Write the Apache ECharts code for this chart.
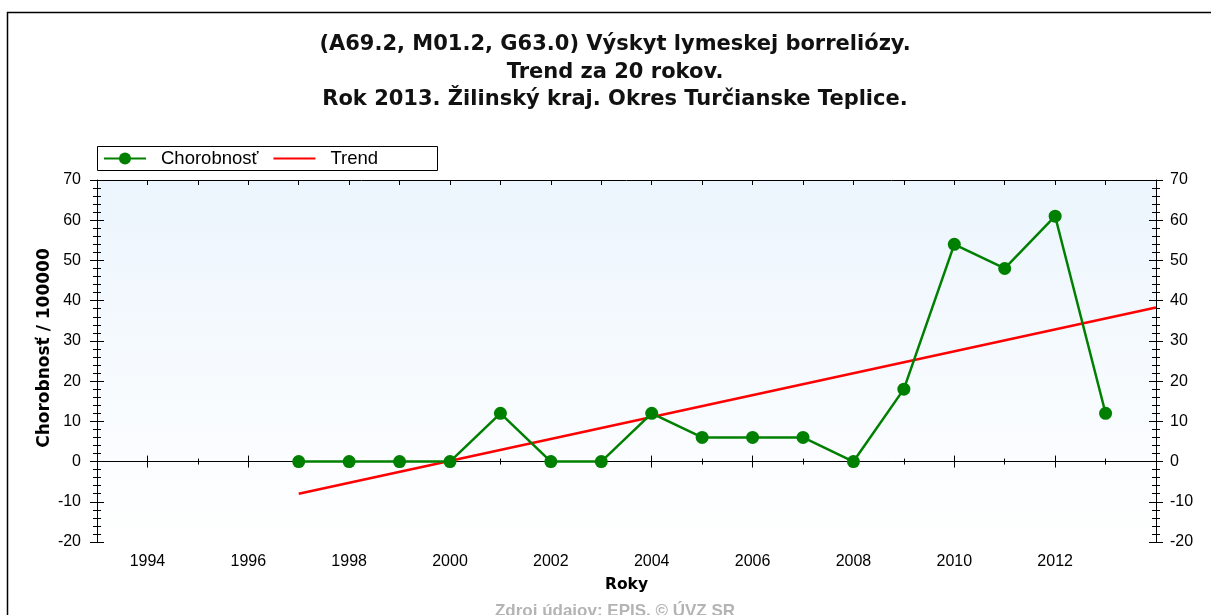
<!DOCTYPE html>
<html>
<head>
<meta charset="utf-8">
<title>Výskyt lymeskej borreliózy – Turčianske Teplice</title>
<script src="https://cdn.jsdelivr.net/npm/echarts@6/dist/echarts.min.js"></script>
<style>
  html, body { margin: 0; padding: 0; background: #ffffff; }
  #chart { width: 1211px; height: 615px; }
</style>
</head>
<body>
<div id="chart"></div>
<script>
// Incidence per 100 000 inhabitants, by year
const years = [1997, 1998, 1999, 2000, 2001, 2002, 2003, 2004, 2005, 2006, 2007, 2008, 2009, 2010, 2011, 2012, 2013];
const incidence = [0, 0, 0, 0, 12, 0, 0, 12, 6, 6, 6, 0, 18, 54, 48, 61, 12];

// Linear trend line, start and end points
const trendYears = [1997, 2014];
const trendValues = [-8.0, 38.3];

// Axis ticks
const labelYears = [1994, 1996, 1998, 2000, 2002, 2004, 2006, 2008, 2010, 2012];
const oddYears = [1995, 1997, 1999, 2001, 2003, 2005, 2007, 2009, 2011, 2013];
const allYears = [1994, 1995, 1996, 1997, 1998, 1999, 2000, 2001, 2002, 2003, 2004, 2005, 2006, 2007, 2008, 2009, 2010, 2011, 2012, 2013];

const titleLines = [
  '(A69.2, M01.2, G63.0) Výskyt lymeskej borreliózy.',
  'Trend za 20 rokov.',
  'Rok 2013. Žilinský kraj. Okres Turčianske Teplice.'
];
const yAxisTitle = 'Chorobnosť / 100000';
const xAxisTitle = 'Roky';
const sourceNote = 'Zdroj údajov: EPIS, © ÚVZ SR';

const FONT = '"Liberation Sans", Arial, sans-serif';
const BOLD_FONT = '"DejaVu Sans", "Liberation Sans", sans-serif';
const chart = echarts.init(document.getElementById('chart'), null, { renderer: 'canvas' });

const X_MIN = 1993, X_MAX = 2014, Y_MIN = -20, Y_MAX = 70;

function xAxisBase(extra) {
  return Object.assign({
    type: 'value', min: X_MIN, max: X_MAX, position: 'bottom',
    axisLine: { show: false },
    axisTick: { show: false },
    axisLabel: { show: false },
    splitLine: { show: false }
  }, extra);
}
function yAxisBase(extra) {
  return Object.assign({
    type: 'value', min: Y_MIN, max: Y_MAX, interval: 10,
    axisLine: { show: false },
    axisTick: { show: true, length: 7, lineStyle: { color: '#000', width: 1 } },
    minorTick: { show: true, splitNumber: 5, length: 4, lineStyle: { color: '#000', width: 1 } },
    axisLabel: { show: false },
    splitLine: { show: false }
  }, extra);
}

const tickStyle = { color: '#000', width: 1 };

const option = {
  animation: false,
  backgroundColor: '#ffffff',
  textStyle: { fontFamily: FONT },
  grid: {
    left: 97, right: 55, top: 180, bottom: 73,
    show: true,
    borderWidth: 0,
    backgroundColor: new echarts.graphic.LinearGradient(0, 0, 0, 1, [
      { offset: 0, color: '#ecf5fd' },
      { offset: 1, color: '#ffffff' }
    ])
  },
  legend: {
    left: 103, top: 149,
    padding: 0,
    itemWidth: 42, itemHeight: 15, itemGap: 14,
    textStyle: { fontFamily: FONT, fontSize: 18.5, color: '#000', padding: [0, 0, 0, 10] },
    data: [
      { name: 'Chorobnosť' },
      { name: 'Trend', itemStyle: { opacity: 0 } }
    ]
  },
  xAxis: [
    xAxisBase({
      axisLine: { show: true, lineStyle: { color: '#000', width: 1 } },
      axisTick: { show: true, length: 6, customValues: labelYears, lineStyle: tickStyle },
      axisLabel: {
        show: true, customValues: labelYears, margin: 12, fontSize: 16, color: '#000', fontFamily: FONT,
        formatter: (v) => String(v)
      },
      name: xAxisTitle, nameLocation: 'middle', nameGap: 35,
      nameTextStyle: { fontFamily: BOLD_FONT, fontSize: 15.5, fontWeight: 'bold', color: '#000' }
    }),
    xAxisBase({ axisTick: { show: true, inside: true, length: 6, customValues: labelYears, lineStyle: tickStyle } }),
    xAxisBase({ axisTick: { show: true, length: 3, customValues: oddYears, lineStyle: tickStyle } }),
    xAxisBase({ axisTick: { show: true, inside: true, length: 3, customValues: oddYears, lineStyle: tickStyle } }),
    xAxisBase({
      position: 'top',
      axisLine: { show: true, lineStyle: { color: '#000', width: 1 } },
      axisTick: { show: true, inside: true, length: 5, customValues: allYears, lineStyle: tickStyle }
    })
  ],
  yAxis: [
    yAxisBase({
      position: 'left',
      axisLine: { show: true, lineStyle: { color: '#000', width: 1 } },
      axisLabel: { show: true, margin: 16, fontSize: 16, color: '#000', fontFamily: FONT }
    }),
    yAxisBase({ position: 'left', axisTick: { show: true, inside: true, length: 7, lineStyle: tickStyle } }),
    yAxisBase({
      position: 'right',
      axisLine: { show: true, lineStyle: { color: '#000', width: 1 } },
      axisLabel: { show: true, margin: 14, fontSize: 16, color: '#000', fontFamily: FONT }
    }),
    yAxisBase({ position: 'right', axisTick: { show: true, inside: true, length: 7, lineStyle: tickStyle } })
  ],
  series: [
    {
      name: 'Chorobnosť',
      type: 'line',
      xAxisIndex: 0, yAxisIndex: 0,
      data: years.map((y, i) => [y, incidence[i]]),
      symbol: 'circle', symbolSize: 13,
      itemStyle: { color: '#008000' },
      lineStyle: { color: '#008000', width: 2.5 },
      z: 4,
      markLine: {
        silent: true, symbol: 'none', z: 1,
        label: { show: false },
        lineStyle: { color: '#000', width: 1, type: 'solid' },
        data: [{ yAxis: 0 }]
      }
    },
    {
      name: 'Trend',
      type: 'line',
      xAxisIndex: 0, yAxisIndex: 0,
      data: trendYears.map((y, i) => [y, trendValues[i]]),
      symbol: 'none',
      lineStyle: { color: '#ff0000', width: 2.5 },
      itemStyle: { color: '#ff0000' },
      z: 3
    }
  ],
  graphic: [
    {
      type: 'polyline', silent: true, z: 0,
      shape: { points: [[7.5, 615], [7.5, 12.5], [1211, 12.5]] },
      style: { stroke: '#000', lineWidth: 1.5, fill: null }
    },
    {
      type: 'rect', silent: true, z: 0,
      shape: { x: 97.5, y: 146.5, width: 340, height: 24 },
      style: { stroke: '#000', lineWidth: 1, fill: '#fff' }
    },
    ...titleLines.map((t, i) => ({
      type: 'text', silent: true,
      x: 615, y: 45 + i * 27.5,
      style: {
        text: t, fill: '#111', align: 'center', verticalAlign: 'middle',
        font: 'bold 21px ' + BOLD_FONT
      }
    })),
    {
      type: 'text', silent: true,
      x: 45, y: 348, rotation: Math.PI / 2,
      style: {
        text: yAxisTitle, fill: '#000', align: 'center', verticalAlign: 'middle',
        font: 'bold 17px ' + BOLD_FONT
      }
    },
    {
      type: 'text', silent: true,
      x: 615, y: 603,
      style: {
        text: sourceNote, fill: '#b4b4b4', align: 'center', verticalAlign: 'top',
        font: 'bold 17px ' + FONT
      }
    }
  ]
};

chart.setOption(option);
</script>
</body>
</html>
